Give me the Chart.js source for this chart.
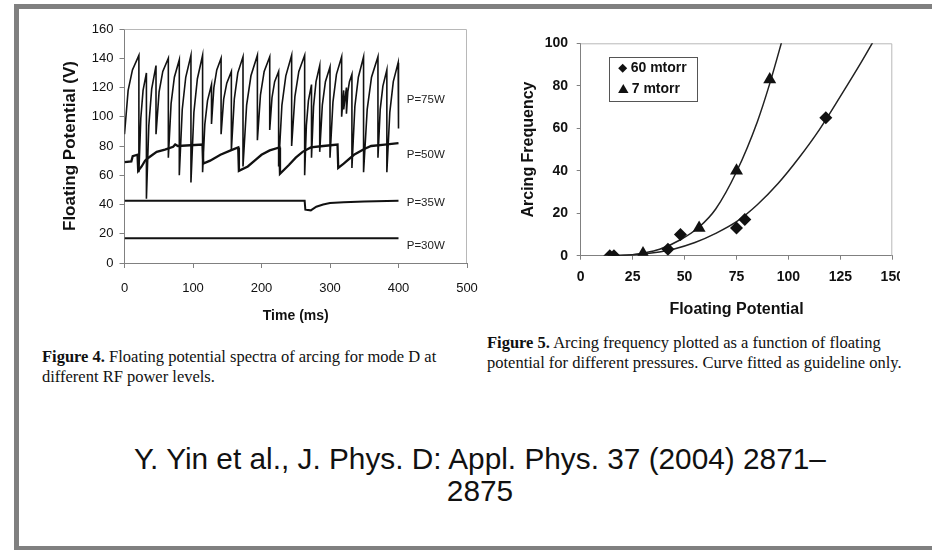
<!DOCTYPE html>
<html>
<head>
<meta charset="utf-8">
<script src="https://cdn.jsdelivr.net/npm/chart.js@4.4.1/dist/chart.umd.min.js"></script>
<style>
    body { margin: 0; background: #fff; }
    #page { position: relative; width: 932px; height: 550px; overflow: hidden; font-family: 'Liberation Sans', Arial, sans-serif; }
    #frame { position: absolute; left: 14px; top: 4px; width: 940px; height: 537px; border: 5px solid #808080; border-right: none; }
    .cap { position: absolute; font: 16.5px 'Liberation Serif', 'Times New Roman', serif; line-height: 20px; white-space: nowrap; color: #111; }
    #cite { position: absolute; left: 80px; top: 443px; width: 800px; text-align: center; font-size: 29.8px; line-height: 32px; color: #111; }
</style>
</head>
<body>
<div id="page">
    <div id="frame"></div>
    <canvas id="fig4" width="440" height="320" style="position:absolute;left:40px;top:15px"></canvas>
    <div style="position:absolute;left:500px;top:25px;width:400px;height:300px;overflow:hidden">
        <canvas id="fig5" width="430" height="300"></canvas>
    </div>
    <div class="cap" style="left:42px;top:347px"><b>Figure 4.</b> Floating potential spectra of arcing for mode D at<br>different RF power levels.</div>
    <div class="cap" style="left:487px;top:333px"><b>Figure 5.</b> Arcing frequency plotted as a function of floating<br>potential for different pressures. Curve fitted as guideline only.</div>
    <div id="cite">Y. Yin et al., J. Phys. D: Appl. Phys. 37 (2004) 2871–<br>2875</div>
</div>
<script>
// Figure 4 - floating potential traces (time in ms, potential in V)
const time75 = [0,
    5.3, 11.6, 21, 21,
    23.8, 27.1, 32, 32,
    35.5, 39.7, 46, 46,
    50.5, 55.9, 64, 64,
    68, 72.8, 80, 80,
    84.3, 89.4, 97, 97,
    101.3, 106.4, 114, 114,
    117.3, 121.2, 127, 127,
    130.5, 134.7, 141, 141,
    144.8, 149.3, 156, 156,
    160.3, 165.4, 173, 173,
    178.3, 184.6, 194, 194,
    198.5, 203.9, 212, 212,
    215.3, 219.2, 225, 225,
    229.8, 235.5, 244, 244,
    248.8, 254.5, 263, 263,
    265.5, 268.5, 273, 273,
    276, 279.6, 285, 285,
    288.8, 293.3, 300, 300,
    304.3, 309.4, 317, 317,
    320, 320, 324, 324,
    326, 328.4, 332, 332,
    336.3, 341.4, 349, 349,
    354.3, 360.6, 370, 370,
    373.3, 377.2, 383, 383,
    387.3, 392.4, 399.5, 400];
const volt75 = [88,
    118, 132, 142, 62,
    99, 118, 130, 44,
    94, 119, 135, 88,
    117, 131, 140, 72,
    109, 127, 139, 60,
    105, 127, 142, 55,
    103, 126, 142, 62,
    95, 111, 122, 95,
    120, 132, 140, 88,
    112, 123, 131, 77,
    112, 130, 141, 66,
    108, 128, 142, 84,
    115, 131, 141, 91,
    113, 124, 131, 66,
    108, 128, 142, 80,
    114, 131, 142, 60,
    94, 111, 122, 72,
    107, 124, 135, 76,
    108, 124, 134, 72,
    110, 129, 141, 100,
    118, 105, 120, 102,
    117, 124, 129, 65,
    107, 127, 141, 62,
    105, 127, 141, 72,
    105, 121, 132, 62,
    103, 124, 137, 92];
const time50 = [0, 10, 12, 19, 20, 25, 30, 35, 47, 59, 71, 74, 78, 114, 115, 125, 140, 155, 166, 167,
    180, 190, 200, 212, 226, 227, 240, 250, 260, 272, 290, 311, 312, 320, 335, 350, 360, 380, 400];
const volt50 = [69, 69.5, 73, 74, 63, 66, 70, 72, 76, 77.5, 79.5, 81, 80, 81, 68, 70, 74, 77, 79, 63,
    66, 70, 74, 77, 79, 61, 67, 72, 76, 79, 80, 81, 65, 68, 74, 78, 80, 81, 82];
const time35 = [0, 263, 264, 272, 280, 290, 300, 320, 350, 400];
const volt35 = [42.5, 42.5, 36.5, 36, 38.5, 40, 41, 41.5, 42, 42.5];
const time30 = [0, 400];
const volt30 = [17, 17];
const powerLabels = ['P=75W', 'P=50W', 'P=35W', 'P=30W'];
const powerLabelY = [111.5, 74, 41, 11.5];
const powerLabelX = 412;

// Figure 5 - arcing frequency vs floating potential
const pts60X = [14, 16, 42, 48, 75, 79, 118];
const pts60Y = [0, 0, 3, 10, 13, 17, 65];
const pts7X = [30, 57, 75, 91];
const pts7Y = [1, 13, 40, 83];
const fit60X = [15, 25, 35, 45, 55, 65, 75, 85, 95, 105, 115, 125, 135, 145];
const fit60Y = [0, 0.4, 1.4, 3.2, 6.2, 10.5, 16, 24, 34, 46, 59.5, 75, 91, 108];
const fit7X = [15, 25, 30, 38, 48, 57, 65, 75, 85, 91, 98];
const fit7Y = [0, 0.5, 1.2, 3.0, 7.5, 13.5, 22, 39.5, 63, 81, 105];

const xy = (xs, ys) => xs.map((x, i) => ({ x: x, y: ys[i] }));

Chart.defaults.font.family = "'Liberation Sans', Arial, sans-serif";
Chart.defaults.color = '#111';

// light grey top/right edge of the plot area
const plotFrame = {
    id: 'plotFrame',
    beforeDatasetsDraw(chart) {
        const { ctx, chartArea: a } = chart;
        ctx.save();
        ctx.strokeStyle = '#b8b8b8';
        ctx.lineWidth = 1;
        ctx.beginPath();
        ctx.moveTo(a.left, a.top + 0.5);
        ctx.lineTo(a.right - 0.5, a.top + 0.5);
        ctx.lineTo(a.right - 0.5, a.bottom);
        ctx.stroke();
        ctx.restore();
    }
};

const powerTags = {
    id: 'powerTags',
    afterDatasetsDraw(chart) {
        const { ctx, scales } = chart;
        ctx.save();
        ctx.font = "11.5px 'Liberation Sans', Arial, sans-serif";
        ctx.fillStyle = '#222';
        ctx.textBaseline = 'middle';
        powerLabels.forEach((txt, i) => {
            ctx.fillText(txt, scales.x.getPixelForValue(powerLabelX), scales.y.getPixelForValue(powerLabelY[i]));
        });
        ctx.restore();
    }
};

// keep the plot box where the layout padding puts it
const fixX = h => s => { s.height = h; s.paddingLeft = 0; s.paddingRight = 0; };
const fixY = w => s => { s.width = w; s.paddingTop = 0; s.paddingBottom = 0; };

function lineSet(label, xs, ys, w) {
    return {
        label: label,
        data: xy(xs, ys),
        showLine: true,
        borderColor: '#111',
        borderWidth: w,
        pointRadius: 0,
        tension: 0
    };
}

new Chart(document.getElementById('fig4'), {
    type: 'scatter',
    data: {
        datasets: [
            lineSet('P=75W', time75, volt75, 1.6),
            lineSet('P=50W', time50, volt50, 2.3),
            lineSet('P=35W', time35, volt35, 2),
            lineSet('P=30W', time30, volt30, 2)
        ]
    },
    options: {
        responsive: false,
        animation: false,
        devicePixelRatio: 1,
        layout: { padding: { left: 16, top: 14, right: 13, bottom: 0 } },
        plugins: { legend: { display: false }, tooltip: { enabled: false } },
        scales: {
            x: {
                type: 'linear', min: 0, max: 500,
                afterFit: fixX(72),
                ticks: { stepSize: 100, padding: 12.5, font: { size: 13 } },
                grid: { drawOnChartArea: false, tickLength: 5, color: '#808080' },
                border: { color: '#808080' },
                title: { display: true, text: 'Time (ms)', font: { size: 14, weight: 'bold' }, padding: { top: 0, bottom: 10 } }
            },
            y: {
                min: 0, max: 160,
                afterFit: fixY(68.5),
                ticks: { stepSize: 20, padding: 6, font: { size: 13 } },
                grid: { drawOnChartArea: false, tickLength: 5, color: '#808080' },
                border: { color: '#808080' },
                title: { display: true, text: 'Floating Potential (V)', font: { size: 17, weight: 'bold' }, padding: { top: 4, bottom: 0 } }
            }
        }
    },
    plugins: [plotFrame, powerTags]
});

function drawMarker(ctx, style, x, y, r) {
    ctx.beginPath();
    if (style === 'triangle') {
        ctx.moveTo(x, y - r);
        ctx.lineTo(x + r * 0.866, y + r * 0.5);
        ctx.lineTo(x - r * 0.866, y + r * 0.5);
    } else {
        ctx.moveTo(x, y - r);
        ctx.lineTo(x + r, y);
        ctx.lineTo(x, y + r);
        ctx.lineTo(x - r, y);
    }
    ctx.closePath();
    ctx.fill();
}

// boxed legend in the top-left of the plot
const boxLegend = {
    id: 'boxLegend',
    afterDraw(chart) {
        const { ctx, chartArea: a } = chart;
        const bx = a.left + 28.3, by = a.top + 13.7;
        ctx.save();
        ctx.fillStyle = '#fff';
        ctx.fillRect(bx, by, 88, 44);
        ctx.strokeStyle = '#555';
        ctx.lineWidth = 1;
        ctx.strokeRect(bx + 0.5, by + 0.5, 88, 44);
        ctx.fillStyle = '#111';
        drawMarker(ctx, 'rectRot', bx + 13.7, by + 11.3, 4.5);
        drawMarker(ctx, 'triangle', bx + 14.3, by + 33, 6);
        ctx.font = "bold 14px 'Liberation Sans', Arial, sans-serif";
        ctx.textBaseline = 'middle';
        ctx.fillText(chart.data.datasets[0].label, bx + 21.7, by + 11.3);
        ctx.fillText(chart.data.datasets[1].label, bx + 22.7, by + 32.3);
        ctx.restore();
    }
};

new Chart(document.getElementById('fig5'), {
    type: 'scatter',
    data: {
        datasets: [
            { label: '60 mtorr', data: xy(pts60X, pts60Y), pointStyle: 'rectRot', pointRadius: 6.5, backgroundColor: '#111', borderColor: '#111', borderWidth: 0 },
            { label: '7 mtorr', data: xy(pts7X, pts7Y), pointStyle: 'triangle', pointRadius: 7.5, backgroundColor: '#111', borderColor: '#111', borderWidth: 0 },
            { label: 'fit 60', data: xy(fit60X, fit60Y), showLine: true, pointRadius: 0, borderColor: '#222', borderWidth: 1.5, cubicInterpolationMode: 'monotone' },
            { label: 'fit 7', data: xy(fit7X, fit7Y), showLine: true, pointRadius: 0, borderColor: '#222', borderWidth: 1.5, cubicInterpolationMode: 'monotone' }
        ]
    },
    options: {
        responsive: false,
        animation: false,
        devicePixelRatio: 1,
        layout: { padding: { left: 15.4, top: 18.3, right: 37.7, bottom: 0 } },
        plugins: { legend: { display: false }, tooltip: { enabled: false } },
        scales: {
            x: {
                type: 'linear', min: 0, max: 150,
                afterFit: fixX(69.3),
                ticks: { stepSize: 25, padding: 9, font: { size: 14, weight: 'bold' } },
                grid: { drawOnChartArea: false, tickLength: 4, color: '#808080' },
                border: { color: '#808080' },
                title: { display: true, text: 'Floating Potential', font: { size: 16, weight: 'bold' }, padding: { top: 0, bottom: 6.1 } }
            },
            y: {
                min: 0, max: 100,
                afterFit: fixY(65.3),
                ticks: { stepSize: 20, padding: 8.7, font: { size: 14, weight: 'bold' } },
                grid: { drawOnChartArea: false, tickLength: 4, color: '#808080' },
                border: { color: '#808080' },
                title: { display: true, text: 'Arcing Frequency', font: { size: 16, weight: 'bold' }, padding: { top: 4, bottom: 0 } }
            }
        }
    },
    plugins: [plotFrame, boxLegend]
});
</script>
</body>
</html>
